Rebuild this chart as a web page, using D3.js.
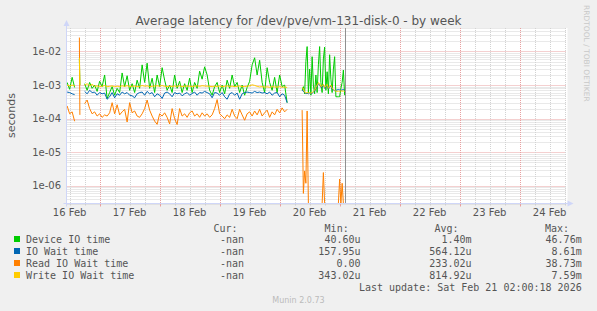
<!DOCTYPE html>
<html>
<head>
<meta charset="utf-8">
<script src="https://cdn.jsdelivr.net/npm/d3@7"></script>
<style>
  body { margin: 0; background: #f0f0f0; }
  svg { display: block; font-family: "DejaVu Sans", sans-serif; }
  .mono { font-family: "DejaVu Sans Mono", monospace; }
</style>
</head>
<body>
<svg id="chart" width="597" height="311"></svg>
<script>
const titleText = "Average latency for /dev/pve/vm-131-disk-0 - by week";
const dayLabels = ["16 Feb", "17 Feb", "18 Feb", "19 Feb", "20 Feb", "21 Feb", "22 Feb", "23 Feb", "24 Feb"];
const yTickValues = [1e-2, 1e-3, 1e-4, 1e-5, 1e-6];
const yTickLabels = ["1e-02", "1e-03", "1e-04", "1e-05", "1e-06"];

const seriesNames = ["Device IO time", "IO Wait time", "Read IO Wait time", "Write IO Wait time"];
const seriesColors = ["#00cc00", "#0066b3", "#ff8000", "#ffcc00"];
const curValues = ["-nan", "-nan", "-nan", "-nan"];
const minValues = ["40.60u", "157.95u", "0.00", "343.02u"];
const avgValues = ["1.40m", "564.12u", "233.02u", "814.92u"];
const maxValues = ["46.76m", "8.61m", "38.73m", "7.59m"];
const lastUpdate = "Last update: Sat Feb 21 02:00:18 2026";

// data segments: start (hours after 17 Feb 00:00 UTC) and step in hours
const segStart = [-13, -8.1, -6, 81];
const segStep = [1, 0.2, 1, 0.5];

// values in milliseconds, one array per segment
const deviceMs = [
    [1.2, 0.75, 1.7, 0.85],
    [6.0, 1.0],
    [1.1, 0.7, 1.2, 0.8, 1.0, 0.65, 1.3, 0.9, 2.0, 0.4,
     0.6, 0.9, 0.5, 0.8, 0.6, 2.3, 0.9, 1.9, 0.7, 1.1,
     0.6, 1.4, 0.8, 4.0, 1.2, 4.5, 0.8, 1.6, 0.6, 2.0,
     0.9, 3.3, 1.4, 0.7, 1.0, 0.6, 2.0, 0.8, 1.3, 0.6,
     1.1, 0.7, 1.6, 0.6, 1.2, 0.8, 2.6, 1.5, 3.5, 2.0,
     0.7, 0.5, 0.9, 1.2, 0.6, 1.0, 0.55, 1.4, 0.8, 2.0,
     0.9, 1.2, 0.6, 1.0, 0.5, 0.85, 1.3, 4.0, 6.5, 2.0,
     5.5, 1.2, 0.6, 3.3, 1.2, 0.7, 1.7, 0.6, 2.0, 0.9,
     1.0, 0.3],
    [0.7, 0.9, 0.55, 5.0, 14, 0.6, 3.0, 0.5, 7, 1.0,
     0.55, 2.0, 0.6, 4.0, 14, 1.2, 0.6, 6, 13.5, 0.7,
     2.5, 0.55, 8, 1.5, 0.6, 3, 7, 0.45, 0.45, 0.45,
     0.45, 0.8, 1.2, 2.8, 0.5]
];
const ioWaitMs = [
    [0.62, 0.6, 0.55, 0.52],
    [null, null],
    [0.65, 0.55, 0.7, 0.6, 0.62, 0.5, 0.6, 0.55, 0.58, 0.38,
     0.45, 0.6, 0.42, 0.55, 0.5, 0.62, 0.55, 0.6, 0.5, 0.48,
     0.42, 0.55, 0.6, 0.62, 0.5, 0.65, 0.55, 0.6, 0.45, 0.55,
     0.5, 0.4, 0.58, 0.62, 0.55, 0.45, 0.6, 0.55, 0.58, 0.48,
     0.55, 0.6, 0.5, 0.56, 0.62, 0.5, 0.6, 0.58, 0.65, 0.6,
     0.55, 0.42, 0.6, 0.58, 0.5, 0.6, 0.45, 0.38, 0.55, 0.6,
     0.5, 0.58, 0.38, 0.55, 0.6, 0.62, 0.6, 0.58, 0.65, 0.6,
     0.62, 0.58, 0.6, 0.55, 0.62, 0.5, 0.58, 0.6, 0.45, 0.55,
     0.5, 0.3],
    [0.7, 0.66, 0.6, 0.55, 0.57, 0.55, 0.58, 0.55, 0.57, 0.62,
     0.66, 0.8, 0.95, 1.1, 1.0, 0.85, 0.9, 1.0, 0.8, 0.9,
     1.0, 0.76, 0.85, 0.95, 0.76, 0.72, 0.68, 0.7, 0.72, 0.74,
     0.72, 0.7, 0.72, 0.74, 0.7]
];
const readMs = [
    [0.24, 0.14, 0.16, 0.084],
    [26, 0.13],
    [0.28, 0.36, 0.2, 0.14, 0.16, 0.12, 0.14, 0.11, 0.13, 0.12,
     0.15, 0.3, 0.14, 0.26, 0.13, 0.16, 0.19, 0.08, 0.3, 0.15,
     0.17, 0.12, 0.11, 0.14, 0.2, 0.36, 0.18, 0.12, 0.085, 0.068,
     0.14, 0.12, 0.15, 0.11, 0.07, 0.2, 0.1, 0.067, 0.2, 0.12,
     0.14, 0.11, 0.15, 0.17, 0.12, 0.14, 0.11, 0.15, 0.12, 0.14,
     0.11, 0.13, 0.2, 0.37, 0.14, 0.12, 0.1, 0.13, 0.11, 0.19,
     0.12, 0.1, 0.19, 0.13, 0.09, 0.14, 0.16, 0.12, 0.17, 0.13,
     0.19, 0.12, 0.15, 0.18, 0.11, 0.16, 0.13, 0.19, 0.15, 0.21,
     0.16, 0.19],
    [0.18, 0.0006, 0.0028, 0.0012, 0.17, 0, 0, 0, 0, 0,
     0, 0, 0, 0, 0, 0, 0, 0.0025, 0, 0,
     0, 0, 0, 0, 0, 0, 0, 0, 0, 0,
     0.0016, 0, 0.0012, 0, 0]
];
const writeMs = [
    [1.0, 0.95, 1.0, 0.95],
    [6.5, 1.0],
    [1.0, 1.1, 0.95, 1.05, 0.92, 0.95, 0.9, 0.93, 0.97, 0.9,
     0.92, 0.95, 0.9, 0.93, 0.91, 0.95, 0.92, 0.96, 0.9, 0.93,
     0.94, 0.9, 0.92, 0.97, 0.93, 0.95, 0.9, 0.92, 0.94, 0.95,
     0.93, 0.97, 0.92, 0.9, 0.93, 0.91, 0.94, 0.92, 0.95, 0.9,
     0.93, 0.94, 0.92, 0.91, 0.93, 0.95, 0.92, 0.96, 0.94, 0.93,
     0.92, 0.9, 0.93, 0.91, 0.94, 0.9, 0.92, 0.95, 0.91, 0.93,
     0.9, 0.92, 0.94, 0.9, 0.91, 0.93, 0.95, 1.02, 0.98, 0.92,
     0.88, 0.9, 0.87, 0.89, 0.86, 0.9, 0.88, 0.87, 0.9, 0.86,
     0.88, 0.85],
    [0.84, 0.8, 0.62, 0.58, 0.6, 0.58, 0.6, 0.57, 0.6, 0.65,
     0.7, 0.85, 1.0, 1.18, 1.1, 0.9, 0.95, 1.05, 0.85, 0.95,
     1.05, 0.8, 0.9, 1.0, 0.8, 0.75, 0.7, 0.66, 0.65, 0.66,
     0.65, 0.68, 0.66, 0.67, 0.65]
];
const allSeries = [deviceMs, ioWaitMs, readMs, writeMs];

const svg = d3.select("#chart");
const plotLeft = 66.5, plotRight = 566.5, plotTop = 28, plotBottom = 203.5;
const yMin = 3e-7, yMax = 5e-2;
const t0 = Date.UTC(2026, 1, 17);
const nowTime = Date.UTC(2026, 1, 21, 2, 0, 18);

const x = d3.scaleUtc()
    .domain([new Date(Date.UTC(2026, 1, 16, 10, 45)), new Date(Date.UTC(2026, 1, 24, 18, 45))])
    .range([plotLeft, plotRight]);
const y = d3.scaleLog().domain([yMin, yMax]).range([plotBottom, plotTop]);

// plot background
svg.append("rect").attr("x", plotLeft).attr("y", plotTop)
    .attr("width", plotRight - plotLeft + 1).attr("height", plotBottom - plotTop)
    .attr("fill", "#fff");

// horizontal grid
const hGrid = [];
for (let e = -7; e <= -2; e++) {
    for (let k = 1; k <= 9; k++) {
        const v = k * Math.pow(10, e);
        if (v >= yMin && v <= yMax) hGrid.push({ v: v, major: k === 1 });
    }
}
svg.append("g").selectAll("line").data(hGrid).join("line")
    .attr("x1", plotLeft).attr("x2", plotRight)
    .attr("y1", d => Math.round(y(d.v)) + 0.5)
    .attr("y2", d => Math.round(y(d.v)) + 0.5)
    .attr("stroke", d => d.major ? "#e8a0a0" : "#d2d2d2")
    .attr("stroke-dasharray", "1,1");

// vertical grid, every 6 hours, red at midnight
const vGrid = d3.utcHour.every(6).range(x.domain()[0], x.domain()[1]);
svg.append("g").selectAll("line").data(vGrid).join("line")
    .attr("x1", d => Math.round(x(d)) + 0.5).attr("x2", d => Math.round(x(d)) + 0.5)
    .attr("y1", plotTop).attr("y2", plotBottom)
    .attr("stroke", d => d.getUTCHours() === 0 ? "#e8a0a0" : "#d2d2d2")
    .attr("stroke-dasharray", "1,1");

// small ticks below the x axis
svg.append("g").selectAll("line").data(vGrid).join("line")
    .attr("x1", d => Math.round(x(d)) + 0.5).attr("x2", d => Math.round(x(d)) + 0.5)
    .attr("y1", plotBottom).attr("y2", d => d.getUTCHours() === 0 ? plotBottom + 3 : plotBottom + 2)
    .attr("stroke", d => d.getUTCHours() === 0 ? "#e8a0a0" : "#cfcfcf");

// series lines
const line = d3.line()
    .defined(d => d.v !== null)
    .x(d => x(new Date(d.t)))
    .y(d => y(Math.max(d.v / 1000, yMin)));

allSeries.forEach((series, s) => {
    series.forEach((values, g) => {
        const pts = values.map((v, i) => ({
            t: t0 + (segStart[g] + i * segStep[g]) * 3600e3,
            v: v
        }));
        svg.append("path")
            .attr("d", line(pts))
            .attr("fill", "none")
            .attr("stroke", seriesColors[s])
            .attr("stroke-width", 1);
    });
});

// "now" rule
const nowX = Math.round(x(new Date(nowTime))) + 0.5;
svg.append("line")
    .attr("x1", nowX).attr("x2", nowX)
    .attr("y1", plotTop).attr("y2", plotBottom)
    .attr("stroke", "#909090");

// axes with arrows
const axisColor = "#cfd6f8";
svg.append("line").attr("x1", plotLeft).attr("x2", plotLeft).attr("y1", plotBottom + 3).attr("y2", plotTop - 4)
    .attr("stroke", axisColor);
svg.append("line").attr("x1", plotLeft - 3).attr("x2", plotRight + 2).attr("y1", plotBottom).attr("y2", plotBottom)
    .attr("stroke", axisColor);
svg.append("path").attr("d", `M${plotLeft - 3},${plotTop - 2} L${plotLeft + 3},${plotTop - 2} L${plotLeft},${plotTop - 8} Z`)
    .attr("fill", axisColor);
svg.append("path").attr("d", `M${plotRight + 1},${plotBottom - 3} L${plotRight + 1},${plotBottom + 3} L${plotRight + 7},${plotBottom} Z`)
    .attr("fill", axisColor);

// y tick labels
svg.append("g").selectAll("text").data(yTickValues).join("text")
    .attr("x", 61).attr("y", d => y(d) + 3.5)
    .attr("text-anchor", "end")
    .attr("font-size", 10).attr("fill", "#555")
    .text((d, i) => yTickLabels[i]);

// x tick labels at noon
svg.append("g").selectAll("text").data(dayLabels).join("text")
    .attr("x", (d, i) => x(new Date(Date.UTC(2026, 1, 16 + i, 12))))
    .attr("y", 216)
    .attr("text-anchor", "middle")
    .attr("font-size", 10).attr("fill", "#555")
    .text(d => d);

// title and axis label
svg.append("text").attr("x", 298.5).attr("y", 24.5)
    .attr("text-anchor", "middle").attr("font-size", 12).attr("fill", "#555")
    .text(titleText);
svg.append("text").attr("transform", "translate(15,115.5) rotate(-90)")
    .attr("text-anchor", "middle").attr("font-size", 11).attr("fill", "#555")
    .text("seconds");
svg.append("text").attr("transform", "translate(584,5) rotate(90)")
    .attr("font-size", 7.5).attr("fill", "#c8c8c8")
    .text("RRDTOOL / TOBI OETIKER");

// legend
const legend = svg.append("g").attr("class", "mono").attr("font-size", 10).attr("fill", "#555");
const headers = [["Cur:", 237.6], ["Min:", 348.7], ["Avg:", 458.5], ["Max:", 569]];
headers.forEach(h => {
    legend.append("text").attr("x", h[1]).attr("y", 231.5).attr("text-anchor", "end").text(h[0]);
});
const colRight = [244, 360.5, 471.5, 581.7];
const cols = [curValues, minValues, avgValues, maxValues];
seriesNames.forEach((name, i) => {
    const yy = 243 + i * 12;
    legend.append("rect").attr("x", 14).attr("y", yy - 7).attr("width", 6).attr("height", 6)
        .attr("fill", seriesColors[i]);
    legend.append("text").attr("x", 26).attr("y", yy).text(name);
    cols.forEach((col, c) => {
        legend.append("text").attr("x", colRight[c]).attr("y", yy)
            .attr("text-anchor", "end").text(col[i]);
    });
});
legend.append("text").attr("x", 581.7).attr("y", 291).attr("text-anchor", "end").text(lastUpdate);

svg.append("text").attr("x", 298.5).attr("y", 303)
    .attr("text-anchor", "middle").attr("font-size", 8).attr("fill", "#bbb")
    .text("Munin 2.0.73");
</script>
</body>
</html>
